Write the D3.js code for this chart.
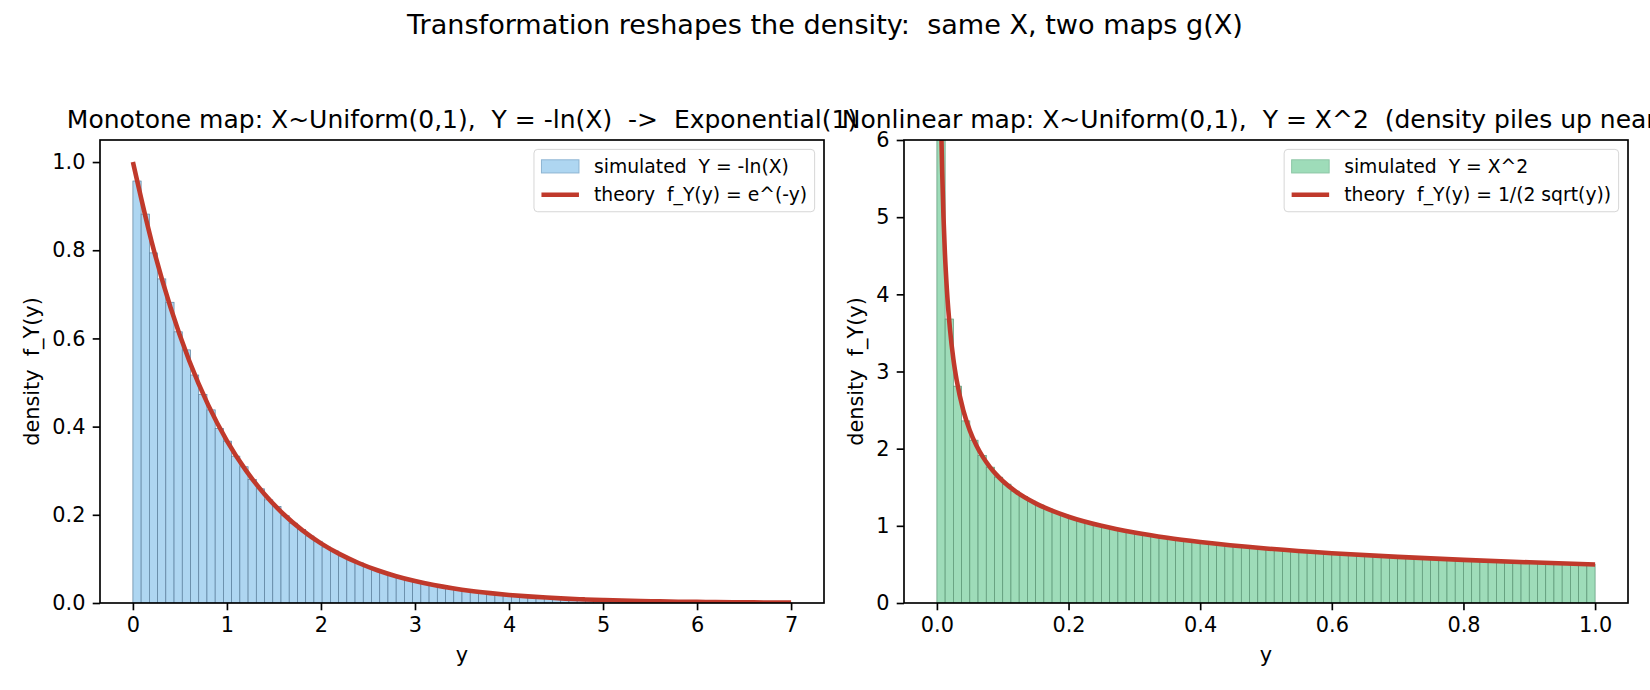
<!DOCTYPE html>
<html>
<head>
<meta charset="utf-8">
<script src="https://cdn.jsdelivr.net/npm/d3@7"></script>
<style>
  body{margin:0;background:#fff;}
  svg text{font-family:"DejaVu Sans",sans-serif;white-space:pre;}
</style>
</head>
<body>
<svg id="fig" width="1650" height="690"></svg>
<script>
// ---- data ----
const leftBinRange = [0, 7]
const leftHist = [0.957, 0.882, 0.794, 0.735, 0.682, 0.615, 0.574, 0.517, 0.473, 0.438,
  0.396, 0.367, 0.333, 0.309, 0.280, 0.259, 0.234, 0.219, 0.198, 0.181,
  0.167, 0.152, 0.140, 0.127, 0.118, 0.107, 0.098, 0.091, 0.082, 0.076,
  0.069, 0.064, 0.058, 0.053, 0.049, 0.045, 0.041, 0.037, 0.034, 0.032,
  0.029, 0.026, 0.024, 0.022, 0.020, 0.019, 0.017, 0.016, 0.014, 0.013,
  0.012, 0.011, 0.010, 0.0093, 0.0085, 0.0078, 0.0071, 0.0066, 0.0059, 0.0055,
  0.0050, 0.0046, 0.0042, 0.0039, 0.0035, 0.0032, 0.0030, 0.0027, 0.0025, 0.0023,
  0.0021, 0.0019, 0.0018, 0.0016, 0.0015, 0.0014, 0.0012, 0.0011, 0.0010, 0.0009]
const leftTheoryX = [0, 0.2, 0.4, 0.6, 0.8, 1.0, 1.2, 1.4, 1.6, 1.8, 2.0, 2.2, 2.4, 2.6, 2.8, 3.0, 3.2, 3.4,
  3.6, 3.8, 4.0, 4.2, 4.4, 4.6, 4.8, 5.0, 5.2, 5.4, 5.6, 5.8, 6.0, 6.2, 6.4, 6.6, 6.8, 7.0]
const leftTheoryY = [1.0, 0.8187, 0.6703, 0.5488, 0.4493, 0.3679, 0.3012, 0.2466, 0.2019, 0.1653,
  0.1353, 0.1108, 0.0907, 0.0743, 0.0608, 0.0498, 0.0408, 0.0334, 0.0273, 0.0224,
  0.0183, 0.0150, 0.0123, 0.0100, 0.0082, 0.0067, 0.0055, 0.0045, 0.0037, 0.0030,
  0.0025, 0.0020, 0.0017, 0.0014, 0.0011, 0.0009]
const leftXTicks = [0, 1, 2, 3, 4, 5, 6, 7]
const leftYTicks = [0.0, 0.2, 0.4, 0.6, 0.8, 1.0]

const rightBinRange = [0, 1]
const rightHist = [8.94, 3.68, 2.81, 2.36, 2.11, 1.91, 1.76, 1.63, 1.54, 1.45,
  1.38, 1.32, 1.27, 1.22, 1.17, 1.14, 1.10, 1.07, 1.04, 1.01,
  0.99, 0.96, 0.94, 0.92, 0.90, 0.886, 0.869, 0.853, 0.838, 0.823,
  0.810, 0.797, 0.784, 0.773, 0.761, 0.751, 0.740, 0.730, 0.721, 0.712,
  0.703, 0.694, 0.687, 0.677, 0.671, 0.663, 0.656, 0.649, 0.642, 0.636,
  0.629, 0.623, 0.617, 0.611, 0.606, 0.600, 0.595, 0.590, 0.585, 0.580,
  0.575, 0.570, 0.566, 0.561, 0.557, 0.553, 0.548, 0.544, 0.540, 0.536,
  0.533, 0.529, 0.525, 0.522, 0.518, 0.515, 0.511, 0.508, 0.505, 0.502]
const rightTheoryX = [0.003, 0.004, 0.005, 0.006, 0.007, 0.008, 0.01, 0.012, 0.015, 0.02, 0.025, 0.03,
  0.04, 0.05, 0.06, 0.07, 0.08, 0.09, 0.10, 0.12, 0.15, 0.2, 0.25, 0.3, 0.35, 0.4,
  0.5, 0.6, 0.7, 0.8, 0.9, 1.0]
const rightTheoryY = [9.129, 7.906, 7.071, 6.455, 5.976, 5.590, 5.000, 4.564, 4.082, 3.536, 3.162, 2.887,
  2.500, 2.236, 2.041, 1.890, 1.768, 1.667, 1.581, 1.443, 1.291, 1.118, 1.000, 0.913, 0.845, 0.791,
  0.707, 0.645, 0.598, 0.559, 0.527, 0.500]
const rightXTicks = [0.0, 0.2, 0.4, 0.6, 0.8, 1.0]
const rightYTicks = [0, 1, 2, 3, 4, 5, 6]

const suptitle = "Transformation reshapes the density:  same X, two maps g(X)"

// pt -> px at 150 dpi
const PT = 150 / 72

class HistPanel{
  constructor(parentId, id, x, y, width, height, opts){
    this.parentId = parentId
    this.id = id
    this.x = x
    this.y = y
    this.width = width
    this.height = height
    this.opts = opts
    this.init()
  }

  init(){
    let self = this
    let o = this.opts
    let g = d3.select("#"+this.parentId).append("g")
        .attr("id", this.id)
        .attr("transform", "translate("+this.x+","+this.y+")")

    this.xScale = d3.scaleLinear().domain(o.xDomain).range([0, self.width])
    this.yScale = d3.scaleLinear().domain(o.yDomain).range([self.height, 0])

    g.append("clipPath").attr("id", this.id+"-clip")
      .append("rect").attr("width", this.width).attr("height", this.height)

    let plot = g.append("g").attr("clip-path", "url(#"+this.id+"-clip)")

    let binW = (o.binRange[1]-o.binRange[0]) / o.hist.length
    plot.selectAll("rect.bar").data(o.hist).enter().append("rect")
        .attr("class", "bar")
        .attr("x", (d,i)=>self.xScale(o.binRange[0]+i*binW))
        .attr("width", (d,i)=>self.xScale(o.binRange[0]+(i+1)*binW)-self.xScale(o.binRange[0]+i*binW))
        .attr("y", d=>self.yScale(d))
        .attr("height", d=>self.yScale(0)-self.yScale(d))
        .attr("fill", o.fill)
        .attr("stroke", o.edge)
        .attr("stroke-width", 0.7)

    let pts = o.theoryX.map((v,i)=>[v, o.theoryY[i]])
    plot.append("path")
        .datum(pts)
        .attr("fill", "none")
        .attr("stroke", "#c0392b")
        .attr("stroke-width", 2.2*PT)
        .attr("stroke-linejoin", "round")
        .attr("d", d3.line().x(d=>self.xScale(d[0])).y(d=>self.yScale(d[1])).curve(d3.curveMonotoneX))

    // axes
    let xAxis = d3.axisBottom(this.xScale).tickValues(o.xTicks).tickFormat(o.xFormat)
        .tickSize(3.5*PT).tickPadding(3.5*PT)
    let yAxis = d3.axisLeft(this.yScale).tickValues(o.yTicks).tickFormat(o.yFormat)
        .tickSize(3.5*PT).tickPadding(3.5*PT)
    let gx = g.append("g").attr("transform", "translate(0,"+this.height+")").call(xAxis)
    let gy = g.append("g").call(yAxis)
    for(let a of [gx, gy]){
      a.select(".domain").remove()
      a.selectAll(".tick line").attr("stroke", "#000").attr("stroke-width", 0.8*PT)
      a.selectAll(".tick text").attr("fill", "#000")
        .style("font-size", (10*PT)+"px").style("font-family", "DejaVu Sans")
    }

    g.append("rect")
        .attr("width", this.width).attr("height", this.height)
        .attr("fill", "none").attr("stroke", "#000").attr("stroke-width", 0.8*PT)

    g.append("text")
        .attr("x", this.width/2).attr("y", -6*PT)
        .attr("text-anchor", "middle")
        .style("font-size", (12*PT)+"px")
        .text(o.title)

    g.append("text")
        .attr("x", this.width/2).attr("y", this.height+59)
        .attr("text-anchor", "middle")
        .style("font-size", (10*PT)+"px")
        .text("y")

    g.append("text")
        .attr("transform", "translate("+o.ylabelX+","+(this.height/2)+") rotate(-90)")
        .attr("text-anchor", "middle")
        .style("font-size", (10*PT)+"px")
        .text("density  f_Y(y)")

    this.legend(g)
  }

  legend(g){
    let o = this.opts
    let fs = 9*PT
    let lg = g.append("g")
    let labels = [o.histLabel, o.theoryLabel]
    let texts = labels.map((t,i)=>lg.append("text")
        .style("font-size", fs+"px")
        .attr("y", 0.4*fs + 9.5 + i*(19+0.5*fs) + 6.4)
        .text(t))
    let maxLen = d3.max(texts, t=>t.node().getComputedTextLength())
    let boxW = 0.4*fs + 2*fs + 0.8*fs + maxLen + 0.4*fs
    let boxH = 0.4*fs*2 + 19*2 + 0.5*fs
    let bx = this.width - 0.5*fs - boxW
    let by = 0.5*fs
    lg.attr("transform", "translate("+bx+","+by+")")
    lg.insert("rect", ":first-child")
        .attr("width", boxW).attr("height", boxH)
        .attr("rx", 0.2*fs).attr("ry", 0.2*fs)
        .attr("fill", "rgba(255,255,255,0.8)")
        .attr("stroke", "rgba(204,204,204,0.8)")
        .attr("stroke-width", 1)
    texts.forEach(t=>t.attr("x", 0.4*fs + 2*fs + 0.8*fs))
    let c1 = 0.4*fs + 9.5
    let c2 = c1 + 19 + 0.5*fs
    lg.append("rect")
        .attr("x", 0.4*fs).attr("y", c1 - 0.35*fs)
        .attr("width", 2*fs).attr("height", 0.7*fs)
        .attr("fill", o.fill).attr("stroke", o.legendEdge).attr("stroke-width", 1)
    lg.append("line")
        .attr("x1", 0.4*fs).attr("x2", 0.4*fs + 2*fs)
        .attr("y1", c2).attr("y2", c2)
        .attr("stroke", "#c0392b").attr("stroke-width", 2.2*PT)
  }
}

d3.select("#fig").append("rect").attr("width", 1650).attr("height", 690).attr("fill", "#fff")

d3.select("#fig").append("text")
    .attr("x", 825).attr("y", 34)
    .attr("text-anchor", "middle")
    .style("font-size", (13*PT)+"px")
    .text(suptitle)

new HistPanel("fig", "left", 100, 140, 724, 463, {
  xDomain: [-0.35, 7.35], yDomain: [0, 1.05],
  binRange: leftBinRange, hist: leftHist,
  theoryX: leftTheoryX, theoryY: leftTheoryY,
  xTicks: leftXTicks, yTicks: leftYTicks,
  xFormat: d3.format("d"), yFormat: d3.format(".1f"),
  fill: "#aed6f1", edge: "#5b7f9c", legendEdge: "#8db4d2",
  title: "Monotone map: X~Uniform(0,1),  Y = -ln(X)  ->  Exponential(1)",
  histLabel: "simulated  Y = -ln(X)",
  theoryLabel: "theory  f_Y(y) = e^(-y)",
  ylabelX: -61
})

new HistPanel("fig", "right", 904, 140, 724, 463, {
  xDomain: [-0.05, 1.05], yDomain: [0, 6],
  binRange: rightBinRange, hist: rightHist,
  theoryX: rightTheoryX, theoryY: rightTheoryY,
  xTicks: rightXTicks, yTicks: rightYTicks,
  xFormat: d3.format(".1f"), yFormat: d3.format("d"),
  fill: "#9edcb9", edge: "#5a9474", legendEdge: "#8cc6a5",
  title: "Nonlinear map: X~Uniform(0,1),  Y = X^2  (density piles up near 0)",
  histLabel: "simulated  Y = X^2",
  theoryLabel: "theory  f_Y(y) = 1/(2 sqrt(y))",
  ylabelX: -41
})
</script>
</body>
</html>
